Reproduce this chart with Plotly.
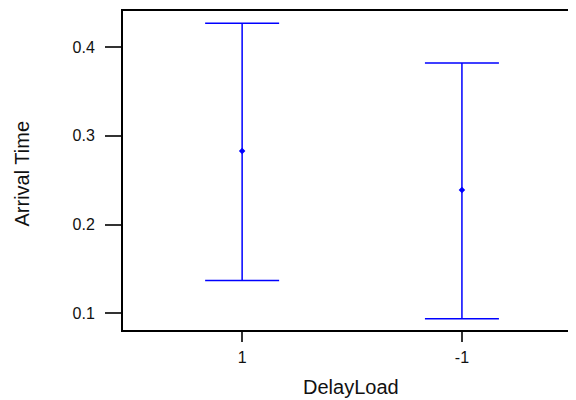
import plotly.graph_objects as go

categories = ["1", "-1"]
means = [0.283, 0.239]
upper = [0.427, 0.382]
lower = [0.137, 0.094]

y_ticks = [0.1, 0.2, 0.3, 0.4]
y_tick_labels = ["0.1", "0.2", "0.3", "0.4"]

err_plus = [u - m for u, m in zip(upper, means)]
err_minus = [m - l for m, l in zip(means, lower)]

FONT = "Liberation Sans, Arial, sans-serif"

fig = go.Figure()
fig.add_trace(go.Scatter(
    x=categories, y=means, mode="markers",
    marker=dict(symbol="diamond", size=5, color="#0000ff"),
    error_y=dict(type="data", symmetric=False, array=err_plus, arrayminus=err_minus,
                 color="#0000ff", thickness=1.5, width=37),
    showlegend=False,
))

fig.update_layout(
    width=568, height=392,
    margin=dict(l=115, r=0, t=3, b=70),
    paper_bgcolor="white", plot_bgcolor="white",
    font=dict(family=FONT, color="#111111", size=16),
    xaxis=dict(
        type="category", range=[-0.542, 1.519],
        showline=True, linecolor="black", linewidth=2, mirror=True,
        ticks="outside", ticklen=10, tickwidth=1.5, tickcolor="#333333",
        showgrid=False, zeroline=False,
        tickfont=dict(size=16), ticklabelstandoff=2,
    ),
    yaxis=dict(
        range=[0.0812, 0.4407],
        tickvals=y_ticks, ticktext=y_tick_labels,
        showline=True, linecolor="black", linewidth=2, mirror=False,
        ticks="outside", ticklen=16, tickwidth=1.5, tickcolor="#333333",
        showgrid=False, zeroline=False,
        tickfont=dict(size=16), ticklabelstandoff=7,
    ),
    annotations=[
        dict(text="DelayLoad", xref="paper", yref="paper", x=0.5, y=0.0,
             xshift=1, yshift=-57, xanchor="center", yanchor="middle", showarrow=False,
             font=dict(size=20)),
        dict(text="Arrival Time", xref="paper", yref="paper", x=0, y=0.5,
             xshift=-102, yshift=-3, xanchor="center", yanchor="middle", showarrow=False,
             textangle=-90, font=dict(size=20)),
    ],
)

fig.write_html("out.html")
